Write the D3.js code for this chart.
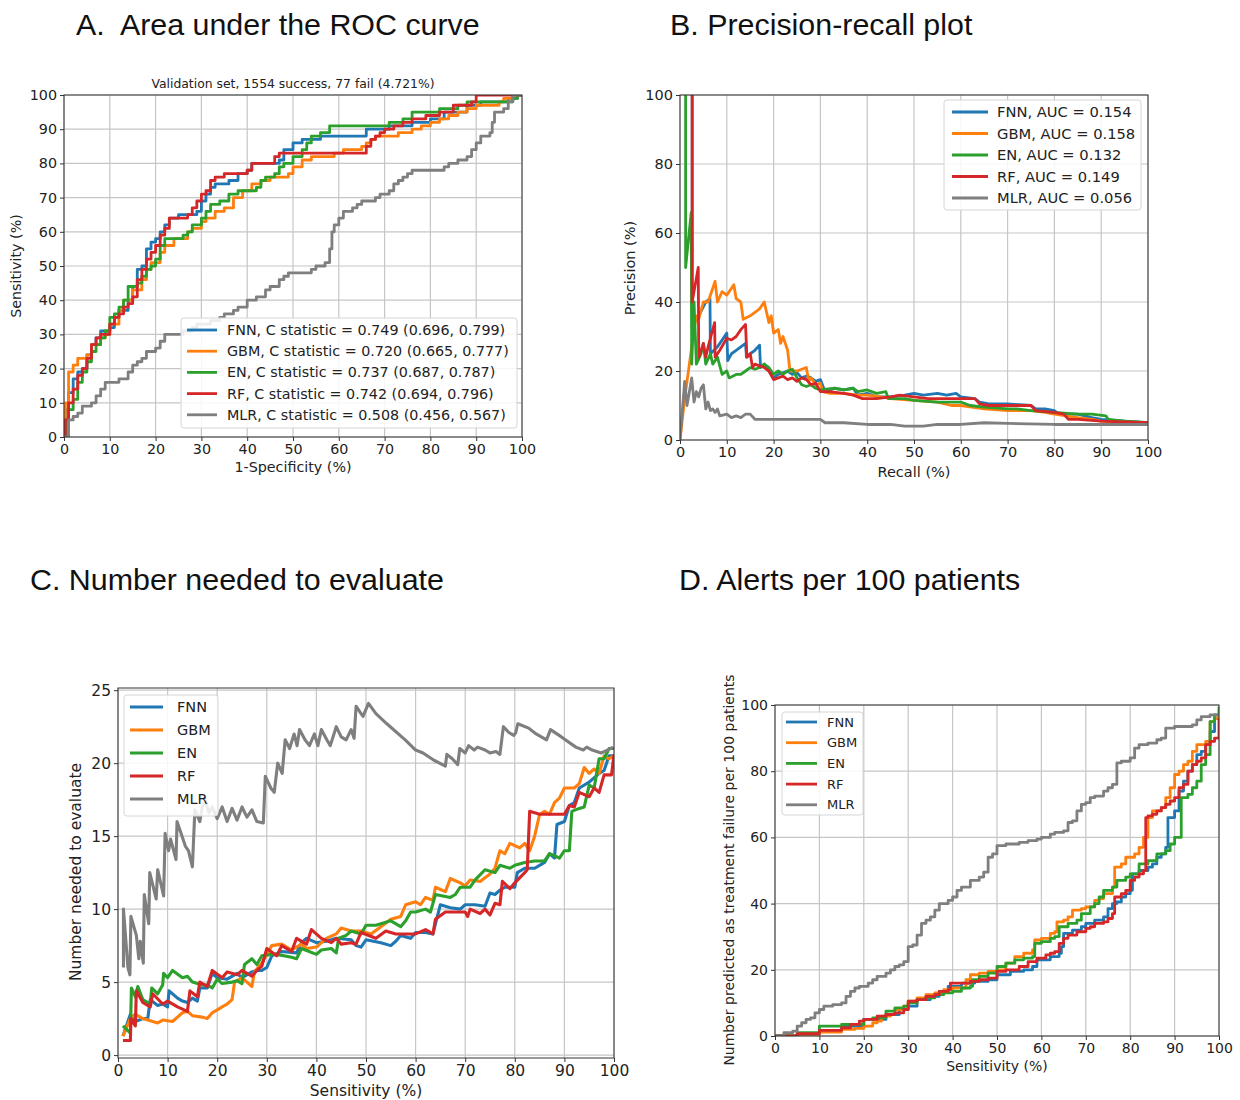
<!DOCTYPE html>
<html>
<head>
<meta charset="utf-8">
<script src="https://cdn.jsdelivr.net/npm/d3@7"></script>
<style>
  body { margin: 0; background: #fff; }
  .heading { font-family: "Liberation Sans", Arial, sans-serif; font-size: 30.4px; fill: #111; white-space: pre; }
  .mpl { font-family: "DejaVu Sans", sans-serif; fill: #222; }
</style>
</head>
<body>
<div id="chart"></div>
<script>
// Models & colours (matplotlib tab10)
const models = ["FNN", "GBM", "EN", "RF", "MLR"];
const colors = ["#1f77b4", "#ff7f0e", "#2ca02c", "#d62728", "#7f7f7f"];

const rocLegend = [
  "FNN, C statistic = 0.749 (0.696, 0.799)",
  "GBM, C statistic = 0.720 (0.665, 0.777)",
  "EN, C statistic = 0.737 (0.687, 0.787)",
  "RF, C statistic = 0.742 (0.694, 0.796)",
  "MLR, C statistic = 0.508 (0.456, 0.567)"];
const prLegend = ["FNN, AUC = 0.154", "GBM, AUC = 0.158", "EN, AUC = 0.132", "RF, AUC = 0.149", "MLR, AUC = 0.056"];

// Tick values
const ticks10 = [0, 10, 20, 30, 40, 50, 60, 70, 80, 90, 100];
const ticks20 = [0, 20, 40, 60, 80, 100];
const ticks5 = [0, 5, 10, 15, 20, 25];

// A. ROC  [1-specificity %, sensitivity %]
const rocFNN = [[0,0],[0.3,8],[1,13],[2,17],[3,19],[4,20],[5,24],[6,27],[7,29],[8,31],[10,32],[11,35],[12,37],[14,40],[15,44],[16,49],[17,50],[18,55],[19,57],[20,58],[21,60],[22,62],[23,64],[25,65],[29,66],[30,69],[31,71],[32,73],[33,74],[36,75],[38,77],[40,78],[41,80],[47,81],[48,84],[50,86],[52,87],[56,88],[66,90],[71,91],[76,92],[80,93],[83,95],[88,97],[91,98],[97,99],[99,100],[100,100]];
const rocGBM = [[0,0],[0.3,10],[1,19],[2,21],[3,23],[5,24],[6,27],[8,29],[9,30],[10,33],[12,37],[13,40],[15,43],[17,46],[18,49],[19,51],[21,54],[22,56],[24,58],[27,60],[28,61],[30,63],[31,64],[33,66],[35,67],[37,70],[39,72],[41,74],[43,75],[45,76],[49,77],[50,79],[52,81],[54,82],[59,83],[61,84],[65,85],[66,86],[67,87],[68,88],[73,89],[76,90],[78,91],[80,92],[82,93],[84,94],[86,95],[88,96],[90,97],[95,98],[96,99],[98,100],[100,100]];
const rocEN = [[0,0],[0.5,5],[1,8],[2,11],[3,16],[4,19],[5,22],[6,25],[7,27],[8,29],[9,31],[10,35],[11,36],[12,38],[13,40],[14,44],[16,45],[17,47],[18,49],[19,50],[20,52],[21,56],[22,58],[26,59],[27,60],[28,62],[30,64],[31,66],[32,68],[34,69],[36,71],[38,72],[42,73],[43,75],[44,76],[46,77],[47,79],[48,80],[50,82],[52,84],[53,86],[54,88],[56,89],[58,91],[69,91],[71,92],[74,93],[76,95],[80,95],[82,96],[86,97],[88,98],[98,99],[99,100],[100,100]];
const rocRF = [[0,0],[0.3,5],[1,10],[2,14],[3,18],[4,20],[5,23],[6,27],[7,29],[8,30],[10,33],[11,35],[12,36],[13,38],[14,39],[15,41],[16,46],[17,49],[18,52],[19,54],[20,56],[21,59],[22,61],[23,64],[27,65],[28,67],[29,69],[30,71],[31,72],[32,75],[33,76],[35,77],[40,78],[41,80],[46,82],[47,83],[65,83],[66,85],[67,87],[68,88],[69,89],[70,90],[72,91],[74,92],[76,93],[79,94],[82,95],[85,97],[89,98],[90,100],[100,100]];
const rocMLR = [[0,0],[1,5],[2,6],[3,7],[4,9],[6,10],[7,12],[8,14],[9,16],[12,17],[14,19],[15,21],[16,22],[17,23],[18,25],[20,26],[21,28],[22,30],[26,31],[28,32],[29,33],[32,34],[34,35],[35,36],[37,37],[38,38],[40,40],[42,41],[44,43],[45,44],[47,46],[48,47],[49,48],[54,49],[55,50],[57,51],[58,55],[58.5,60],[59,62],[60,64],[61,66],[63,67],[64,68],[65,69],[68,70],[69,71],[71,72],[72,74],[73,75],[74,76],[75,77],[76,78],[83,79],[84,80],[86,81],[88,82],[89,84],[90,86],[91,88],[93,89],[93.5,92],[94,95],[96,96],[97,98],[98,100],[100,100]];

// B. Precision-recall  [recall %, precision %]
const prFNN = [[2.6,100],[2.6,33],[4,36],[5.5,40],[6.4,41],[6.5,25],[8,27],[9,29],[10,31],[10.2,23],[11,25],[12,26],[13,27],[14,28],[14.2,24],[15,25],[16,26],[17,27.5],[17.2,21],[18,22],[19,20],[20,18],[21,19],[22,19.5],[23,20],[24,19],[25,19.5],[26,18],[27,18.5],[28,18],[29,17],[30,17.5],[31,14],[33,15],[35,14.5],[37,15],[38,13],[40,13.5],[42,12.5],[45,12.5],[48,13],[50,13.5],[52,13],[55,13.5],[57,13],[59,13.5],[60,12.5],[63,12],[64,11],[66,10.5],[70,10.5],[75,10],[76,9],[78,9],[80,8.5],[81,7.5],[85,7.5],[88,6.5],[90,6],[95,5.5],[100,5]];
const prGBM = [[0,0],[1,12],[2,22],[3,32],[3.5,36],[4,35],[5,40],[6,40],[7,44],[7.5,46],[8,40],[9,43],[10,42],[11,44],[11.5,45],[12,41],[13,40],[13.5,35],[15,36],[16,37],[17,38],[18,40],[18.5,37],[19,34],[19.5,36],[20,31],[21,32],[21.5,28],[22,30],[23,26],[23.5,20],[25,20],[26,20.5],[27,21],[27.5,17],[28,18],[29,16],[30,16.5],[30.5,14],[32,13.5],[35,13.5],[38,13],[40,13],[43,12.5],[45,12],[50,11.5],[55,11],[58,10],[60,10],[65,9],[70,8.5],[75,8.5],[78,8],[80,7.5],[85,6.5],[88,6],[90,5.5],[95,5],[100,5]];
const prEN = [[1.2,100],[1.2,50],[2.4,66],[2.5,22],[3,40],[3.5,22],[4.5,25],[5,28],[5.5,22],[6.5,25],[7,22],[8,24],[9,19],[10,20],[10.5,18],[12,19],[13,19],[14,20],[15,21],[16,20.5],[17,21],[18,22],[19,21],[20,19],[21,20],[22,19],[23,20],[24,20.5],[25,18],[26,16],[27,15.5],[28,16],[29,15],[30,14.5],[33,15],[35,14.5],[37,15],[38,14],[40,14.5],[42,13.5],[44,14],[44.5,12],[48,12],[50,11.5],[55,11],[60,11],[62,10],[65,9.5],[70,9],[72,9],[75,8.5],[80,8],[85,7.5],[88,7.5],[91,7],[91.5,6],[95,5.5],[100,5]];
const prRF = [[2.6,100],[2.6,40],[3.9,50],[4,24],[5,28],[5.5,24],[6,27],[7.4,34],[7.5,24],[8.5,26],[10,29.5],[11,29],[12,30],[13,32],[14,33.5],[14.3,24],[15,25],[15.5,21],[16,22],[17,21.5],[18,21],[19,20],[20,17.5],[21,18],[22,18.5],[23,17.5],[24,18],[25,17],[26,18],[27,17.5],[28,16],[29,16.5],[30,14],[32,14],[35,13.5],[37,13],[39,12],[42,12],[45,12.5],[47,13],[50,12.5],[53,12],[55,12],[60,12],[63,12],[64,10.5],[66,10],[70,10],[75,10],[76,8.5],[80,8],[82,7.5],[83,6],[85,6],[90,5.5],[100,5]];
const prMLR = [[0,0],[1,17],[1.5,10],[2,14],[2.5,18],[3,11],[3.5,14],[4,12.5],[4.5,15],[5,16],[5.5,9],[6,11],[6.5,8.5],[7,9],[7.5,8],[8,9],[8.5,7],[10,7.5],[11,6.5],[12,7],[13,6.5],[14,7.5],[15,7.5],[16,6],[18,6],[20,6],[25,6],[28,6],[30,6],[31,5],[35,5],[40,4.5],[45,4.5],[48,4],[52,4],[55,4.5],[60,4.5],[65,5],[70,4.8],[80,4.5],[90,4.5],[100,4.5]];

// C. Number needed to evaluate  [sensitivity %, NNE]
const nneFNN = [[1,1.3],[2.5,2.8],[3.5,2.3],[5,2.5],[6,2.5],[6.5,3.8],[8,3.4],[9,3.5],[10,3.3],[10.3,4.4],[12,3.9],[13,3.7],[14,3.6],[15,3.9],[16,3.7],[16.5,4.6],[18,4.6],[19,5.6],[20,5.3],[22,5.2],[24,5.6],[25,5.3],[27,5.7],[28,5.8],[29,5.8],[30,6],[31,6.8],[33,7.1],[36,7],[37,7.7],[38,8],[40,7.7],[42,7.8],[44,8],[47,7.9],[48,7.5],[49,7.4],[50,7.9],[53,7.7],[55,7.5],[56,7.8],[57,8.2],[59,8],[60,8.4],[62,8.4],[63.5,8.3],[64,9],[65,10.3],[67,10.1],[69,10],[70,10.3],[72,10.3],[74,10.2],[75,11.1],[76,11],[77,11.3],[78,11.5],[80,11.5],[80.5,12.5],[82,12.8],[84,12.8],[86,13.2],[87,13.8],[88,13.5],[88.5,15.8],[90,16],[91,17.1],[92,17.3],[93,18.3],[95,18.7],[97,19.3],[98,19.5],[99,20.5],[100,20.5]];
const nneGBM = [[1,1.3],[2.5,2.5],[3.5,2.8],[5,2.5],[7,2.3],[8,2.2],[9,2.4],[11,2.3],[12,2.6],[13,2.9],[14,3],[15,2.7],[17,2.6],[18,2.5],[19,2.9],[20,3.1],[21,3.3],[22,3.5],[23,3.8],[23.5,5],[25,5.3],[26,5],[27,4.7],[27.5,5.7],[29,6.3],[30,6.9],[31,7.5],[33,7.6],[35,7.2],[37,7.6],[38,7.3],[40,7.4],[42,8],[44,8.3],[45,8.7],[47,8.5],[49,8.5],[51,8.3],[53,8.8],[55,9.3],[57,9.5],[58,10.3],[60,10.5],[61,10.3],[62,10.8],[63.5,10.6],[64,11.5],[66,11.2],[67,12.1],[69,11.8],[70,11.6],[71,12],[73,11.9],[75,12.4],[76,12.8],[77,14],[78,13.8],[79,14.5],[81,14.2],[82,14.5],[83,14],[84,15],[85,16.5],[86,16.7],[87,16.5],[88,17.3],[89,17.6],[90,18.3],[92,18.3],[93,18.6],[94,19.7],[95,19.3],[96,19.6],[97,19.3],[98,20.5],[99,20.3],[100,20.5]];
const nneEN = [[1,2],[2.5,1.5],[2.7,4.6],[3.5,4],[4,4.7],[5,3.8],[6.5,3.5],[6.8,4.6],[8,4.2],[9,4.8],[9.2,5.6],[10,5.3],[11,5.8],[13,5.3],[14,5.4],[15,5],[17,4.8],[18,4.8],[19,4.6],[20,5.2],[21,4.9],[23,5],[24,5.1],[25,4.9],[25.5,6.2],[27,6.6],[28,6.2],[29,6.8],[31,6.9],[32,6.9],[35,6.7],[36,6.6],[37,7.3],[40,6.9],[41,7.2],[43,7.3],[44,7],[44.5,8],[46,8.2],[47,8.5],[49,8.3],[50,8.9],[52,8.9],[55,9.2],[57,8.8],[58,9.2],[59,9.8],[60,9.8],[62,10],[63,9.8],[64,11],[67,10.8],[68,11],[69,11.5],[71,11.5],[72,12],[74,12.7],[76,12.5],[77,13],[79,12.8],[80,13],[82,13.2],[84,13.3],[86,13.3],[87,13.8],[89,13.5],[90,14],[91,14],[91.5,16.7],[93,16.9],[94,17],[95,18.5],[96,18.3],[97,20.3],[98,20.3],[99,21],[100,21]];
const nneRF = [[1,1],[2.5,1],[2.6,2.5],[3.5,2],[3.7,4.4],[5,3.6],[6.5,3.3],[7,4.2],[9,3.5],[10,3.7],[12,3.3],[14,3],[14.5,4.4],[16,4],[16.5,5],[18,4.7],[19,5.8],[21,5.3],[22,5.7],[24,5.5],[25,5.8],[27,5.4],[28,5.8],[29,6.1],[30,7.3],[32,6.8],[33,7.5],[35,7.1],[36,8],[38,7.6],[39,8.6],[41,8],[43,7.7],[44,8],[45,7.6],[47,7.7],[48,7.6],[49,8.4],[52,8],[54,8.5],[56,8.3],[60,8.3],[62,8.6],[63.5,8.3],[64,9.3],[66,9.8],[70,9.8],[70.5,9.5],[71,10],[73,9.7],[74,10],[75,9.6],[76,10.4],[77,10.3],[77.5,11.9],[79,11.4],[80,11.8],[82,12.5],[82.5,12.7],[83,16.7],[85,16.5],[88,16.5],[90,16.5],[91,17.1],[92,17],[93,18],[95,17.7],[96,18.3],[97,18],[98,19.2],[99.5,19.2],[100,20.6]];
const nneMLR = [[1.1,6],[1.1,10],[2,6],[2.4,5.5],[2.6,9.5],[3.7,8.2],[4.2,6.6],[4.5,7.8],[5.1,6.3],[5.3,11],[6.2,9],[6.4,12.5],[7.7,10.7],[8,12.7],[9.2,10.9],[9.5,15.2],[10.2,14],[10.6,14.8],[11.7,13.4],[11.9,16],[13.6,14.3],[14.2,14],[15,12.9],[15.5,16.8],[16.5,16],[17,17],[17.6,17.5],[18.3,16.6],[19,17],[20,16.2],[21,17],[22,16],[23,16.9],[24,16.1],[25,17],[26,16.3],[27,16.8],[28,16],[29.3,15.9],[29.7,19.1],[30.8,18.3],[31.5,18],[32.2,20],[33.1,19.3],[33.7,21.6],[34.6,21],[35.5,22],[36.1,21.2],[36.6,22.3],[37.7,21.6],[38.6,21.2],[39.6,22],[40.3,21.2],[41,22.3],[42.1,21.6],[42.8,21.2],[44,22.5],[45,21.8],[46,21.6],[47,22.3],[47.6,21.7],[48,23.9],[49,23.4],[49.4,23.2],[50.5,24.1],[52,23.4],[54.2,22.7],[57.9,21.6],[60,20.9],[61.5,20.7],[63.7,20.2],[66,19.8],[66.3,20.6],[67.4,20.3],[68.5,19.9],[68.9,21],[70,20.7],[70.7,21.2],[71.8,20.9],[72.5,21.1],[74,20.9],[75,20.7],[76.2,20.8],[77,20.6],[77.7,22.5],[78.8,22.1],[79.8,21.9],[80.2,22.1],[80.6,22.7],[82.8,22.4],[84.3,22],[86.4,21.6],[87.2,22.3],[89.4,21.8],[92.3,21.1],[93.8,20.9],[94.5,21.1],[95.6,20.9],[97.4,20.7],[98.8,20.9],[99.8,21.1]];

// D. Alerts per 100 patients  [sensitivity %, number flagged per 100]
const alFNN = [[0,0],[5,0.5],[10,1.5],[15,3],[20,5],[25,6.5],[28,8],[30,9],[32,11],[35,12],[37,13.5],[39,15],[42,16],[45,16.5],[48,17],[50,18.5],[53,19.5],[56,20],[58,21],[59,23],[62,24],[64,25],[64.5,27],[65,31],[67,32],[69,33],[70,34],[72,35],[74,36],[75,38.5],[76,40],[77,40.5],[78,42],[79,43],[80,44],[80.5,49],[82,50],[84,51],[85,52],[86,54],[87,55],[88,57],[88.5,66],[90,68],[91,74],[92,77],[93,80],[94,82],[95,85],[96,86],[97,88],[98,92],[99,96],[100,97]];
const alGBM = [[0,0],[5,0.5],[10,1.2],[15,2],[18,2.3],[20,3],[22,4],[23,4.5],[24,6],[26,6.5],[27,8],[29,9],[30,10.5],[32,11.5],[34,12.5],[36,13],[38,14],[40,14.5],[43,17],[44,18.5],[46,19],[48,19.5],[50,20],[52,22],[54,24],[56,25],[58,26],[58.5,29],[60,29.5],[62,31],[63,31.5],[63.5,34.5],[65,35],[66,36],[67,38],[69,38.5],[70,39],[72,41],[73,41.5],[74,43],[76,45],[76.5,51],[78,52],[79,54],[81,55],[82,57],[83,60],[84,66],[85,68],[87,69],[88,72],[89,75],[90,79],[91,80],[92,82],[93,83],[94,86],[95,88],[97,89],[98,95],[99,96],[100,97]];
const alEN = [[0,0],[5,1],[10,3],[15,3.5],[20,5],[22,5.5],[25,7.5],[27,8.5],[29,9],[30,10],[32,11],[34,11.5],[36,12.5],[38,13],[40,13.5],[42,14.5],[44,15],[44.5,17],[46,18],[48,19],[50,21],[52,22],[54,23],[56,23.5],[58,24],[58.5,28],[60,28.5],[62,29.5],[63,30],[64,33],[66,34],[68,35],[69,37],[71,39],[72,40],[73,42],[74,44],[76,45],[77,47],[79,48],[80,49],[82,52],[84,53],[86,55],[88,56],[89,58],[90,60],[91,60],[91.5,72],[93,73],[94,75],[95,77],[96,82],[97,85],[98,95],[99,97],[100,99.5]];
const alRF = [[0,0],[5,0.7],[10,1.7],[15,2.5],[17,3.5],[19,4.5],[20,5],[23,6],[25,6.5],[27,7],[29,8],[30,10.5],[32,11],[34,12],[36,12.5],[37,13.5],[39,14],[39.5,16],[42,16],[44,16.5],[46,17],[48,17.5],[50,19.5],[52,20],[55,21],[57,22.5],[59,23.5],[61,24.5],[62,25],[63,25.5],[64,28],[65,29.5],[66,30.5],[68,31.5],[70,32.5],[71,33],[72,34],[74,34.5],[75,35.5],[76,37],[76.5,42],[78,43],[79,44],[80,47],[81,48],[82,49],[83,50],[83.5,66],[84,66.5],[85,67],[86,68],[87,69],[88,70],[89,71],[90,72],[91,75],[92,76],[93,80],[94,82],[95,83],[96,84],[97,88],[98,89],[99,90],[100,90],[100,96]];
const alMLR = [[0,0],[2,1],[4,1.5],[5,3],[6,4],[7,5],[8,5.5],[9,7],[10,8],[11,9],[13,9.5],[15,10],[16,12],[17,13.5],[18,14.5],[19,15],[21,16],[22,17],[23,18],[25,19],[26,20],[27,21],[28,21.5],[29,22.5],[30,27],[31,27.5],[32,30.5],[33,34],[34,35],[35,36],[36,38],[37,40],[39,41],[40,42],[41,44],[42,45],[44,47],[46,48],[47,49.5],[48,54],[49,55],[50,57.5],[52,58],[55,58.5],[57,59],[59,59.5],[60,60],[62,61],[63,61.5],[65,62],[66,64.5],[67,65],[68,68],[69,70],[70,70.5],[71,72],[72,72.5],[74,74],[75,75],[76,76],[77,82.5],[78,83],[80,84],[81,87],[82,88],[84,88.5],[86,89.5],[87,90],[88,93],[90,93.5],[94,94],[95,95.5],[96,96.5],[98,97],[100,97.5]];


let svg = d3.select("#chart").append("svg")
    .attr("width", 1240)
    .attr("height", 1100);

// Panel headings
const headings = [
  {t: "A.  Area under the ROC curve", x: 76, y: 35},
  {t: "B. Precision-recall plot", x: 670, y: 35},
  {t: "C. Number needed to evaluate", x: 30, y: 590},
  {t: "D. Alerts per 100 patients", x: 679, y: 590}];
svg.selectAll("text.heading")
    .data(headings)
    .join("text")
    .attr("class", "heading")
    .attr("x", d => d.x)
    .attr("y", d => d.y)
    .text(d => d.t);

let clipId = 0;

function panel(o) {
	let x = d3.scaleLinear().domain(o.xd).range([o.left, o.right]);
	let y = d3.scaleLinear().domain(o.yd).range([o.bottom, o.top]);
	let g = svg.append("g");

	// grid
	g.selectAll("line.gx").data(o.xt).join("line")
		.attr("x1", d => x(d)).attr("x2", d => x(d))
		.attr("y1", o.top).attr("y2", o.bottom)
		.attr("stroke", "#c6c6c6").attr("stroke-width", 1.2);
	g.selectAll("line.gy").data(o.yt).join("line")
		.attr("y1", d => y(d)).attr("y2", d => y(d))
		.attr("x1", o.left).attr("x2", o.right)
		.attr("stroke", "#c6c6c6").attr("stroke-width", 1.2);

	// series, clipped to the frame
	let id = "clip" + (clipId++);
	g.append("clipPath").attr("id", id).append("rect")
		.attr("x", o.left).attr("y", o.top)
		.attr("width", o.right - o.left).attr("height", o.bottom - o.top);
	let line = d3.line()
		.x(d => x(d[0])).y(d => y(d[1]))
		.curve(o.step ? d3.curveStepAfter : d3.curveLinear);
	g.append("g").attr("clip-path", "url(#" + id + ")")
		.selectAll("path").data(o.series).join("path")
		.attr("d", line)
		.attr("fill", "none")
		.attr("stroke", (d, i) => colors[i])
		.attr("stroke-width", o.lw)
		.attr("stroke-linejoin", "round");

	// frame
	g.append("rect")
		.attr("x", o.left).attr("y", o.top)
		.attr("width", o.right - o.left).attr("height", o.bottom - o.top)
		.attr("fill", "none").attr("stroke", "#333").attr("stroke-width", 1);

	// axes
	let xa = g.append("g").attr("transform", "translate(0," + o.bottom + ")")
		.call(d3.axisBottom(x).tickValues(o.xt).tickSize(4).tickPadding(3));
	let ya = g.append("g").attr("transform", "translate(" + o.left + ",0)")
		.call(d3.axisLeft(y).tickValues(o.yt).tickSize(4).tickPadding(3));
	[xa, ya].forEach(a => {
		a.select(".domain").remove();
		a.selectAll("line").attr("stroke", "#333");
		a.selectAll("text").attr("class", "mpl").style("font-size", o.fs + "px")
			.attr("fill", "#222");
	});

	// axis titles
	g.append("text").attr("class", "mpl")
		.attr("x", (o.left + o.right) / 2).attr("y", o.xly)
		.attr("text-anchor", "middle").style("font-size", o.fs + "px")
		.text(o.xl);
	g.append("text").attr("class", "mpl")
		.attr("transform", "translate(" + o.ylx + "," + o.ylc + ") rotate(-90)")
		.attr("text-anchor", "middle").style("font-size", o.fs + "px")
		.text(o.yl);

	// legend
	let L = o.leg;
	let leg = g.append("g");
	leg.append("rect")
		.attr("x", L.x).attr("y", L.y).attr("width", L.w).attr("height", L.h)
		.attr("rx", 3).attr("fill", "#fff").attr("fill-opacity", 0.85)
		.attr("stroke", "#d6d6d6");
	let rows = leg.selectAll("g.row").data(L.labels).join("g")
		.attr("transform", (d, i) => "translate(0," + (L.r0 + i * L.dr) + ")");
	rows.append("line")
		.attr("x1", L.lx).attr("x2", L.lx + L.ll)
		.attr("stroke", (d, i) => colors[i]).attr("stroke-width", o.lw);
	rows.append("text").attr("class", "mpl")
		.attr("x", L.tx).attr("dy", "0.35em")
		.style("font-size", L.fs + "px")
		.text(d => d);
	return g;
}

// A
let gA = panel({
	left: 64, right: 522, top: 95, bottom: 437,
	xd: [0, 100], yd: [0, 100], xt: ticks10, yt: ticks10,
	series: [rocFNN, rocGBM, rocEN, rocRF, rocMLR], step: true, lw: 2.8,
	fs: 14.3, xl: "1-Specificity (%)", xly: 472, yl: "Sensitivity (%)", ylx: 21, ylc: 266,
	leg: {x: 181, y: 318, w: 336, h: 110, r0: 330, dr: 21.2, lx: 187, ll: 30, tx: 227, fs: 14.3, labels: rocLegend}
});
gA.append("text").attr("class", "mpl")
	.attr("x", 293).attr("y", 88).attr("text-anchor", "middle")
	.style("font-size", "12.4px")
	.text("Validation set, 1554 success, 77 fail (4.721%)");

// B
panel({
	left: 680, right: 1148, top: 95, bottom: 440,
	xd: [0, 100], yd: [0, 100], xt: ticks10, yt: ticks20,
	series: [prFNN, prGBM, prEN, prRF, prMLR], step: false, lw: 2.8,
	fs: 14.5, xl: "Recall (%)", xly: 477, yl: "Precision (%)", ylx: 635, ylc: 268,
	leg: {x: 944, y: 100, w: 197, h: 110, r0: 112, dr: 21.5, lx: 952, ll: 36, tx: 997, fs: 14.7, labels: prLegend}
});

// C
panel({
	left: 118, right: 614, top: 688, bottom: 1058,
	xd: [0, 100], yd: [-0.2, 25.15], xt: ticks10, yt: ticks5,
	series: [nneFNN, nneGBM, nneEN, nneRF, nneMLR], step: false, lw: 3.1,
	fs: 15.5, xl: "Sensitivity (%)", xly: 1096, yl: "Number needed to evaluate", ylx: 81, ylc: 872,
	leg: {x: 124, y: 695, w: 94, h: 121, r0: 707, dr: 23, lx: 130, ll: 33, tx: 177, fs: 14.5, labels: models}
});

// D
panel({
	left: 775, right: 1219, top: 705, bottom: 1036,
	xd: [0, 100], yd: [0, 100], xt: ticks10, yt: ticks20,
	series: [alFNN, alGBM, alEN, alRF, alMLR], step: true, lw: 2.8,
	fs: 14, xl: "Sensitivity (%)", xly: 1071, yl: "Number predicted as treatment failure per 100 patients", ylx: 734, ylc: 870,
	leg: {x: 782, y: 712, w: 81, h: 103, r0: 722, dr: 20.7, lx: 786, ll: 31, tx: 827, fs: 13, labels: models}
});
</script>
</body>
</html>
